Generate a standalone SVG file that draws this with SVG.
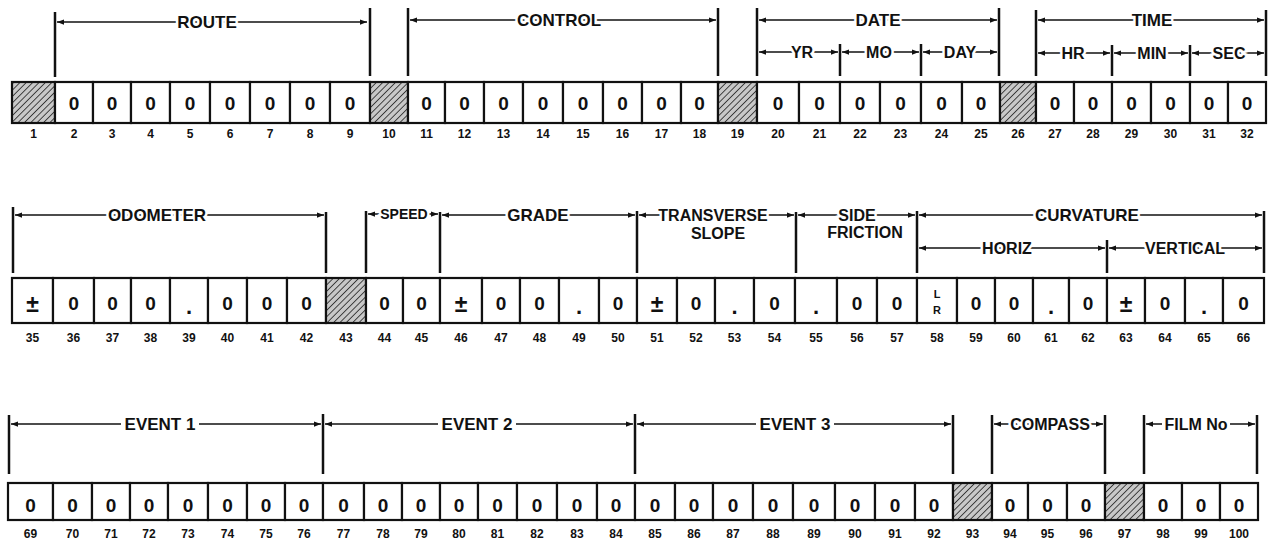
<svg xmlns="http://www.w3.org/2000/svg" width="1269" height="542" viewBox="0 0 1269 542">
<defs>
<pattern id="hatch" patternUnits="userSpaceOnUse" width="4.5" height="4.5" patternTransform="rotate(45)">
<rect width="4.5" height="4.5" fill="#c8c8c8"/>
<line x1="0" y1="0" x2="0" y2="4.5" stroke="#222" stroke-width="1.6"/>
</pattern>
<marker id="ah" viewBox="0 0 8 6" refX="8" refY="3" markerWidth="7" markerHeight="5.5" markerUnits="userSpaceOnUse" orient="auto-start-reverse">
<path d="M0,0 L8,3 L0,6 z" fill="#111"/>
</marker>
</defs>
<style>
.c{fill:#fff;stroke:#111;stroke-width:2.2}
.h{fill:url(#hatch);stroke:#111;stroke-width:2.2}
.d{font-family:"Liberation Sans",Arial,sans-serif;font-weight:bold;font-size:19px;text-anchor:middle;fill:#111}
.pm{font-size:23px}
.dt{font-size:22px}
.s{font-family:"Liberation Sans",Arial,sans-serif;font-weight:bold;font-size:11px;text-anchor:middle;fill:#111}
.n{font-family:"Liberation Sans",Arial,sans-serif;font-weight:bold;font-size:12px;text-anchor:middle;fill:#111}
.lb{font-family:"Liberation Sans",Arial,sans-serif;font-weight:bold;font-size:17px;text-anchor:middle;fill:#111;stroke:#fff;stroke-width:5px;paint-order:stroke}
.sl{font-family:"Liberation Sans",Arial,sans-serif;font-weight:bold;font-size:16px;text-anchor:middle;fill:#111;stroke:#fff;stroke-width:5px;paint-order:stroke}
.sp{font-size:14px}
.bg{fill:#fff;stroke:none}
.tk{stroke:#111;stroke-width:2.5;fill:none}
.ln{stroke:#111;stroke-width:1.5;fill:none;marker-start:url(#ah);marker-end:url(#ah)}
</style>
<rect width="1269" height="542" fill="#fff"/>

<g id="connectors">
<!-- row 1 -->
<line class="tk" x1="55" y1="12" x2="55" y2="77"/>
<line class="tk" x1="370" y1="8" x2="370" y2="76"/>
<line class="ln" x1="57" y1="22" x2="367" y2="22"/>
<line class="tk" x1="408" y1="8" x2="408" y2="76"/>
<line class="tk" x1="718" y1="8" x2="718" y2="76"/>
<line class="ln" x1="410" y1="20" x2="716" y2="20"/>
<line class="tk" x1="757" y1="8" x2="757" y2="76"/>
<line class="tk" x1="999" y1="8" x2="999" y2="76"/>
<line class="ln" x1="759" y1="20" x2="997" y2="20"/>
<line class="tk" x1="840" y1="44" x2="840" y2="76"/>
<line class="tk" x1="921" y1="44" x2="921" y2="76"/>
<line class="ln" x1="759" y1="52" x2="838" y2="52"/>
<line class="ln" x1="842" y1="52" x2="919" y2="52"/>
<line class="ln" x1="923" y1="52" x2="997" y2="52"/>
<line class="tk" x1="1036" y1="10" x2="1036" y2="76"/>
<line class="tk" x1="1266" y1="10" x2="1266" y2="76"/>
<line class="ln" x1="1038" y1="20" x2="1264" y2="20"/>
<line class="tk" x1="1112" y1="45" x2="1112" y2="76"/>
<line class="tk" x1="1190" y1="45" x2="1190" y2="76"/>
<line class="ln" x1="1038" y1="53" x2="1110" y2="53"/>
<line class="ln" x1="1114" y1="53" x2="1188" y2="53"/>
<line class="ln" x1="1192" y1="53" x2="1264" y2="53"/>
<!-- row 2 -->
<line class="tk" x1="13" y1="207" x2="13" y2="273"/>
<line class="tk" x1="326" y1="212" x2="326" y2="273"/>
<line class="ln" x1="15" y1="215" x2="324" y2="215"/>
<line class="tk" x1="366" y1="211" x2="366" y2="273"/>
<line class="ln" x1="368" y1="214" x2="438" y2="214"/>
<line class="tk" x1="440" y1="212" x2="440" y2="273"/>
<line class="ln" x1="442" y1="215" x2="635" y2="215"/>
<line class="tk" x1="637" y1="211" x2="637" y2="273"/>
<line class="ln" x1="639" y1="215" x2="794" y2="215"/>
<line class="tk" x1="796" y1="212" x2="796" y2="273"/>
<line class="ln" x1="798" y1="215" x2="915" y2="215"/>
<line class="tk" x1="917" y1="211" x2="917" y2="273"/>
<line class="tk" x1="1264" y1="211" x2="1264" y2="273"/>
<line class="ln" x1="919" y1="215" x2="1262" y2="215"/>
<line class="tk" x1="1107" y1="240" x2="1107" y2="273"/>
<line class="ln" x1="919" y1="248" x2="1105" y2="248"/>
<line class="ln" x1="1109" y1="248" x2="1262" y2="248"/>
<!-- row 3 -->
<line class="tk" x1="9" y1="415" x2="9" y2="474"/>
<line class="tk" x1="323" y1="414" x2="323" y2="474"/>
<line class="ln" x1="11" y1="424" x2="321" y2="424"/>
<line class="ln" x1="325" y1="424" x2="633" y2="424"/>
<line class="tk" x1="635" y1="414" x2="635" y2="474"/>
<line class="ln" x1="637" y1="424" x2="951" y2="424"/>
<line class="tk" x1="953" y1="415" x2="953" y2="474"/>
<line class="tk" x1="992" y1="415" x2="992" y2="474"/>
<line class="tk" x1="1105" y1="415" x2="1105" y2="474"/>
<line class="ln" x1="994" y1="424" x2="1103" y2="424"/>
<line class="tk" x1="1144" y1="415" x2="1144" y2="474"/>
<line class="tk" x1="1257" y1="415" x2="1257" y2="474"/>
<line class="ln" x1="1146" y1="424" x2="1255" y2="424"/>
</g>

<g id="labels">
<text class="lb" x="207" y="28">ROUTE</text>
<text class="lb" x="559" y="26">CONTROL</text>
<text class="lb" x="878" y="26">DATE</text>
<text class="sl" x="802" y="58">YR</text>
<text class="sl" x="879" y="58">MO</text>
<text class="sl" x="960" y="58">DAY</text>
<text class="lb" x="1152" y="26">TIME</text>
<text class="sl" x="1073" y="59">HR</text>
<text class="sl" x="1152" y="59">MIN</text>
<text class="sl" x="1229" y="59">SEC</text>
<text class="lb" x="157" y="221">ODOMETER</text>
<text class="sl sp" x="404" y="219">SPEED</text>
<text class="lb" x="538" y="221">GRADE</text>
<text class="sl" x="713" y="221">TRANSVERSE</text>
<text class="sl" x="718" y="239">SLOPE</text>
<text class="sl" x="857" y="221">SIDE</text>
<text class="sl" x="865" y="238">FRICTION</text>
<text class="lb" x="1087" y="221">CURVATURE</text>
<text class="sl" x="1007" y="254">HORIZ</text>
<text class="sl" x="1185" y="254">VERTICAL</text>
<rect class="bg" x="121" y="416" width="78" height="16"/>
<text class="lb" x="160" y="430">EVENT 1</text>
<rect class="bg" x="438" y="416" width="78" height="16"/>
<text class="lb" x="477" y="430">EVENT 2</text>
<rect class="bg" x="756" y="416" width="78" height="16"/>
<text class="lb" x="795" y="430">EVENT 3</text>
<text class="sl" x="1050" y="430">COMPASS</text>
<rect class="bg" x="1162" y="416" width="68" height="16"/>
<text class="sl" x="1196" y="430">FILM No</text>
</g>

<g id="row1">
<g id="c1"><rect class="h" x="12" y="82" width="43" height="41"/><text class="n" x="33.5" y="138">1</text></g>
<g id="c2"><rect class="c" x="55" y="82" width="38" height="41"/><text class="d" x="74" y="110">0</text><text class="n" x="74" y="138">2</text></g>
<g id="c3"><rect class="c" x="93" y="82" width="38" height="41"/><text class="d" x="112" y="110">0</text><text class="n" x="112" y="138">3</text></g>
<g id="c4"><rect class="c" x="131" y="82" width="39" height="41"/><text class="d" x="150.5" y="110">0</text><text class="n" x="150.5" y="138">4</text></g>
<g id="c5"><rect class="c" x="170" y="82" width="40" height="41"/><text class="d" x="190" y="110">0</text><text class="n" x="190" y="138">5</text></g>
<g id="c6"><rect class="c" x="210" y="82" width="40" height="41"/><text class="d" x="230" y="110">0</text><text class="n" x="230" y="138">6</text></g>
<g id="c7"><rect class="c" x="250" y="82" width="40" height="41"/><text class="d" x="270" y="110">0</text><text class="n" x="270" y="138">7</text></g>
<g id="c8"><rect class="c" x="290" y="82" width="40" height="41"/><text class="d" x="310" y="110">0</text><text class="n" x="310" y="138">8</text></g>
<g id="c9"><rect class="c" x="330" y="82" width="40" height="41"/><text class="d" x="350" y="110">0</text><text class="n" x="350" y="138">9</text></g>
<g id="c10"><rect class="h" x="370" y="82" width="38" height="41"/><text class="n" x="389" y="138">10</text></g>
<g id="c11"><rect class="c" x="408" y="82" width="37" height="41"/><text class="d" x="426.5" y="110">0</text><text class="n" x="426.5" y="138">11</text></g>
<g id="c12"><rect class="c" x="445" y="82" width="39" height="41"/><text class="d" x="464.5" y="110">0</text><text class="n" x="464.5" y="138">12</text></g>
<g id="c13"><rect class="c" x="484" y="82" width="39" height="41"/><text class="d" x="503.5" y="110">0</text><text class="n" x="503.5" y="138">13</text></g>
<g id="c14"><rect class="c" x="523" y="82" width="40" height="41"/><text class="d" x="543" y="110">0</text><text class="n" x="543" y="138">14</text></g>
<g id="c15"><rect class="c" x="563" y="82" width="40" height="41"/><text class="d" x="583" y="110">0</text><text class="n" x="583" y="138">15</text></g>
<g id="c16"><rect class="c" x="603" y="82" width="39" height="41"/><text class="d" x="622.5" y="110">0</text><text class="n" x="622.5" y="138">16</text></g>
<g id="c17"><rect class="c" x="642" y="82" width="39" height="41"/><text class="d" x="661.5" y="110">0</text><text class="n" x="661.5" y="138">17</text></g>
<g id="c18"><rect class="c" x="681" y="82" width="37" height="41"/><text class="d" x="699.5" y="110">0</text><text class="n" x="699.5" y="138">18</text></g>
<g id="c19"><rect class="h" x="718" y="82" width="39" height="41"/><text class="n" x="737.5" y="138">19</text></g>
<g id="c20"><rect class="c" x="757" y="82" width="42" height="41"/><text class="d" x="778" y="110">0</text><text class="n" x="778" y="138">20</text></g>
<g id="c21"><rect class="c" x="799" y="82" width="41" height="41"/><text class="d" x="819.5" y="110">0</text><text class="n" x="819.5" y="138">21</text></g>
<g id="c22"><rect class="c" x="840" y="82" width="40" height="41"/><text class="d" x="860" y="110">0</text><text class="n" x="860" y="138">22</text></g>
<g id="c23"><rect class="c" x="880" y="82" width="41" height="41"/><text class="d" x="900.5" y="110">0</text><text class="n" x="900.5" y="138">23</text></g>
<g id="c24"><rect class="c" x="921" y="82" width="41" height="41"/><text class="d" x="941.5" y="110">0</text><text class="n" x="941.5" y="138">24</text></g>
<g id="c25"><rect class="c" x="962" y="82" width="38" height="41"/><text class="d" x="981" y="110">0</text><text class="n" x="981" y="138">25</text></g>
<g id="c26"><rect class="h" x="1000" y="82" width="36" height="41"/><text class="n" x="1018" y="138">26</text></g>
<g id="c27"><rect class="c" x="1036" y="82" width="38" height="41"/><text class="d" x="1055" y="110">0</text><text class="n" x="1055" y="138">27</text></g>
<g id="c28"><rect class="c" x="1074" y="82" width="38" height="41"/><text class="d" x="1093" y="110">0</text><text class="n" x="1093" y="138">28</text></g>
<g id="c29"><rect class="c" x="1112" y="82" width="39" height="41"/><text class="d" x="1131.5" y="110">0</text><text class="n" x="1131.5" y="138">29</text></g>
<g id="c30"><rect class="c" x="1151" y="82" width="39" height="41"/><text class="d" x="1170.5" y="110">0</text><text class="n" x="1170.5" y="138">30</text></g>
<g id="c31"><rect class="c" x="1190" y="82" width="38" height="41"/><text class="d" x="1209" y="110">0</text><text class="n" x="1209" y="138">31</text></g>
<g id="c32"><rect class="c" x="1228" y="82" width="38" height="41"/><text class="d" x="1247" y="110">0</text><text class="n" x="1247" y="138">32</text></g>
</g>

<g id="row2">
<g id="c35"><rect class="c" x="12" y="278" width="41" height="45"/><text class="d pm" x="32.5" y="312">±</text><text class="n" x="32.5" y="342">35</text></g>
<g id="c36"><rect class="c" x="53" y="278" width="41" height="45"/><text class="d" x="73.5" y="310">0</text><text class="n" x="73.5" y="342">36</text></g>
<g id="c37"><rect class="c" x="94" y="278" width="37" height="45"/><text class="d" x="112.5" y="310">0</text><text class="n" x="112.5" y="342">37</text></g>
<g id="c38"><rect class="c" x="131" y="278" width="39" height="45"/><text class="d" x="150.5" y="310">0</text><text class="n" x="150.5" y="342">38</text></g>
<g id="c39"><rect class="c" x="170" y="278" width="38" height="45"/><text class="d dt" x="189" y="314">.</text><text class="n" x="189" y="342">39</text></g>
<g id="c40"><rect class="c" x="208" y="278" width="39" height="45"/><text class="d" x="227.5" y="310">0</text><text class="n" x="227.5" y="342">40</text></g>
<g id="c41"><rect class="c" x="247" y="278" width="40" height="45"/><text class="d" x="267" y="310">0</text><text class="n" x="267" y="342">41</text></g>
<g id="c42"><rect class="c" x="287" y="278" width="39" height="45"/><text class="d" x="306.5" y="310">0</text><text class="n" x="306.5" y="342">42</text></g>
<g id="c43"><rect class="h" x="326" y="278" width="40" height="45"/><text class="n" x="346" y="342">43</text></g>
<g id="c44"><rect class="c" x="366" y="278" width="37" height="45"/><text class="d" x="384.5" y="310">0</text><text class="n" x="384.5" y="342">44</text></g>
<g id="c45"><rect class="c" x="403" y="278" width="37" height="45"/><text class="d" x="421.5" y="310">0</text><text class="n" x="421.5" y="342">45</text></g>
<g id="c46"><rect class="c" x="440" y="278" width="42" height="45"/><text class="d pm" x="461" y="312">±</text><text class="n" x="461" y="342">46</text></g>
<g id="c47"><rect class="c" x="482" y="278" width="38" height="45"/><text class="d" x="501" y="310">0</text><text class="n" x="501" y="342">47</text></g>
<g id="c48"><rect class="c" x="520" y="278" width="39" height="45"/><text class="d" x="539.5" y="310">0</text><text class="n" x="539.5" y="342">48</text></g>
<g id="c49"><rect class="c" x="559" y="278" width="40" height="45"/><text class="d dt" x="579" y="314">.</text><text class="n" x="579" y="342">49</text></g>
<g id="c50"><rect class="c" x="599" y="278" width="38" height="45"/><text class="d" x="618" y="310">0</text><text class="n" x="618" y="342">50</text></g>
<g id="c51"><rect class="c" x="637" y="278" width="40" height="45"/><text class="d pm" x="657" y="312">±</text><text class="n" x="657" y="342">51</text></g>
<g id="c52"><rect class="c" x="677" y="278" width="38" height="45"/><text class="d" x="696" y="310">0</text><text class="n" x="696" y="342">52</text></g>
<g id="c53"><rect class="c" x="715" y="278" width="39" height="45"/><text class="d dt" x="734.5" y="314">.</text><text class="n" x="734.5" y="342">53</text></g>
<g id="c54"><rect class="c" x="754" y="278" width="41" height="45"/><text class="d" x="774.5" y="310">0</text><text class="n" x="774.5" y="342">54</text></g>
<g id="c55"><rect class="c" x="795" y="278" width="42" height="45"/><text class="d dt" x="816" y="314">.</text><text class="n" x="816" y="342">55</text></g>
<g id="c56"><rect class="c" x="837" y="278" width="40" height="45"/><text class="d" x="857" y="310">0</text><text class="n" x="857" y="342">56</text></g>
<g id="c57"><rect class="c" x="877" y="278" width="40" height="45"/><text class="d" x="897" y="310">0</text><text class="n" x="897" y="342">57</text></g>
<g id="c58"><rect class="c" x="917" y="278" width="40" height="45"/><text class="s" x="937" y="298">L</text><text class="s" x="937" y="314">R</text><text class="n" x="937" y="342">58</text></g>
<g id="c59"><rect class="c" x="957" y="278" width="38" height="45"/><text class="d" x="976" y="310">0</text><text class="n" x="976" y="342">59</text></g>
<g id="c60"><rect class="c" x="995" y="278" width="38" height="45"/><text class="d" x="1014" y="310">0</text><text class="n" x="1014" y="342">60</text></g>
<g id="c61"><rect class="c" x="1033" y="278" width="36" height="45"/><text class="d dt" x="1051" y="314">.</text><text class="n" x="1051" y="342">61</text></g>
<g id="c62"><rect class="c" x="1069" y="278" width="38" height="45"/><text class="d" x="1088" y="310">0</text><text class="n" x="1088" y="342">62</text></g>
<g id="c63"><rect class="c" x="1107" y="278" width="38" height="45"/><text class="d pm" x="1126" y="312">±</text><text class="n" x="1126" y="342">63</text></g>
<g id="c64"><rect class="c" x="1145" y="278" width="40" height="45"/><text class="d" x="1165" y="310">0</text><text class="n" x="1165" y="342">64</text></g>
<g id="c65"><rect class="c" x="1185" y="278" width="38" height="45"/><text class="d dt" x="1204" y="314">.</text><text class="n" x="1204" y="342">65</text></g>
<g id="c66"><rect class="c" x="1223" y="278" width="41" height="45"/><text class="d" x="1243.5" y="310">0</text><text class="n" x="1243.5" y="342">66</text></g>
</g>

<g id="row3">
<g id="c69"><rect class="c" x="8" y="483" width="45" height="37"/><text class="d" x="30.5" y="512">0</text><text class="n" x="30.5" y="538">69</text></g>
<g id="c70"><rect class="c" x="53" y="483" width="39" height="37"/><text class="d" x="72.5" y="512">0</text><text class="n" x="72.5" y="538">70</text></g>
<g id="c71"><rect class="c" x="92" y="483" width="38" height="37"/><text class="d" x="111" y="512">0</text><text class="n" x="111" y="538">71</text></g>
<g id="c72"><rect class="c" x="130" y="483" width="38" height="37"/><text class="d" x="149" y="512">0</text><text class="n" x="149" y="538">72</text></g>
<g id="c73"><rect class="c" x="168" y="483" width="40" height="37"/><text class="d" x="188" y="512">0</text><text class="n" x="188" y="538">73</text></g>
<g id="c74"><rect class="c" x="208" y="483" width="39" height="37"/><text class="d" x="227.5" y="512">0</text><text class="n" x="227.5" y="538">74</text></g>
<g id="c75"><rect class="c" x="247" y="483" width="38" height="37"/><text class="d" x="266" y="512">0</text><text class="n" x="266" y="538">75</text></g>
<g id="c76"><rect class="c" x="285" y="483" width="38" height="37"/><text class="d" x="304" y="512">0</text><text class="n" x="304" y="538">76</text></g>
<g id="c77"><rect class="c" x="323" y="483" width="41" height="37"/><text class="d" x="343.5" y="512">0</text><text class="n" x="343.5" y="538">77</text></g>
<g id="c78"><rect class="c" x="364" y="483" width="38" height="37"/><text class="d" x="383" y="512">0</text><text class="n" x="383" y="538">78</text></g>
<g id="c79"><rect class="c" x="402" y="483" width="38" height="37"/><text class="d" x="421" y="512">0</text><text class="n" x="421" y="538">79</text></g>
<g id="c80"><rect class="c" x="440" y="483" width="38" height="37"/><text class="d" x="459" y="512">0</text><text class="n" x="459" y="538">80</text></g>
<g id="c81"><rect class="c" x="478" y="483" width="39" height="37"/><text class="d" x="497.5" y="512">0</text><text class="n" x="497.5" y="538">81</text></g>
<g id="c82"><rect class="c" x="517" y="483" width="40" height="37"/><text class="d" x="537" y="512">0</text><text class="n" x="537" y="538">82</text></g>
<g id="c83"><rect class="c" x="557" y="483" width="40" height="37"/><text class="d" x="577" y="512">0</text><text class="n" x="577" y="538">83</text></g>
<g id="c84"><rect class="c" x="597" y="483" width="38" height="37"/><text class="d" x="616" y="512">0</text><text class="n" x="616" y="538">84</text></g>
<g id="c85"><rect class="c" x="635" y="483" width="40" height="37"/><text class="d" x="655" y="512">0</text><text class="n" x="655" y="538">85</text></g>
<g id="c86"><rect class="c" x="675" y="483" width="38" height="37"/><text class="d" x="694" y="512">0</text><text class="n" x="694" y="538">86</text></g>
<g id="c87"><rect class="c" x="713" y="483" width="40" height="37"/><text class="d" x="733" y="512">0</text><text class="n" x="733" y="538">87</text></g>
<g id="c88"><rect class="c" x="753" y="483" width="40" height="37"/><text class="d" x="773" y="512">0</text><text class="n" x="773" y="538">88</text></g>
<g id="c89"><rect class="c" x="793" y="483" width="42" height="37"/><text class="d" x="814" y="512">0</text><text class="n" x="814" y="538">89</text></g>
<g id="c90"><rect class="c" x="835" y="483" width="40" height="37"/><text class="d" x="855" y="512">0</text><text class="n" x="855" y="538">90</text></g>
<g id="c91"><rect class="c" x="875" y="483" width="40" height="37"/><text class="d" x="895" y="512">0</text><text class="n" x="895" y="538">91</text></g>
<g id="c92"><rect class="c" x="915" y="483" width="38" height="37"/><text class="d" x="934" y="512">0</text><text class="n" x="934" y="538">92</text></g>
<g id="c93"><rect class="h" x="953" y="483" width="39" height="37"/><text class="n" x="972.5" y="538">93</text></g>
<g id="c94"><rect class="c" x="992" y="483" width="36" height="37"/><text class="d" x="1010" y="512">0</text><text class="n" x="1010" y="538">94</text></g>
<g id="c95"><rect class="c" x="1028" y="483" width="39" height="37"/><text class="d" x="1047.5" y="512">0</text><text class="n" x="1047.5" y="538">95</text></g>
<g id="c96"><rect class="c" x="1067" y="483" width="38" height="37"/><text class="d" x="1086" y="512">0</text><text class="n" x="1086" y="538">96</text></g>
<g id="c97"><rect class="h" x="1105" y="483" width="39" height="37"/><text class="n" x="1124.5" y="538">97</text></g>
<g id="c98"><rect class="c" x="1144" y="483" width="38" height="37"/><text class="d" x="1163" y="512">0</text><text class="n" x="1163" y="538">98</text></g>
<g id="c99"><rect class="c" x="1182" y="483" width="38" height="37"/><text class="d" x="1201" y="512">0</text><text class="n" x="1201" y="538">99</text></g>
<g id="c100"><rect class="c" x="1220" y="483" width="38" height="37"/><text class="d" x="1239" y="512">0</text><text class="n" x="1239" y="538">100</text></g>
</g>
</svg>
